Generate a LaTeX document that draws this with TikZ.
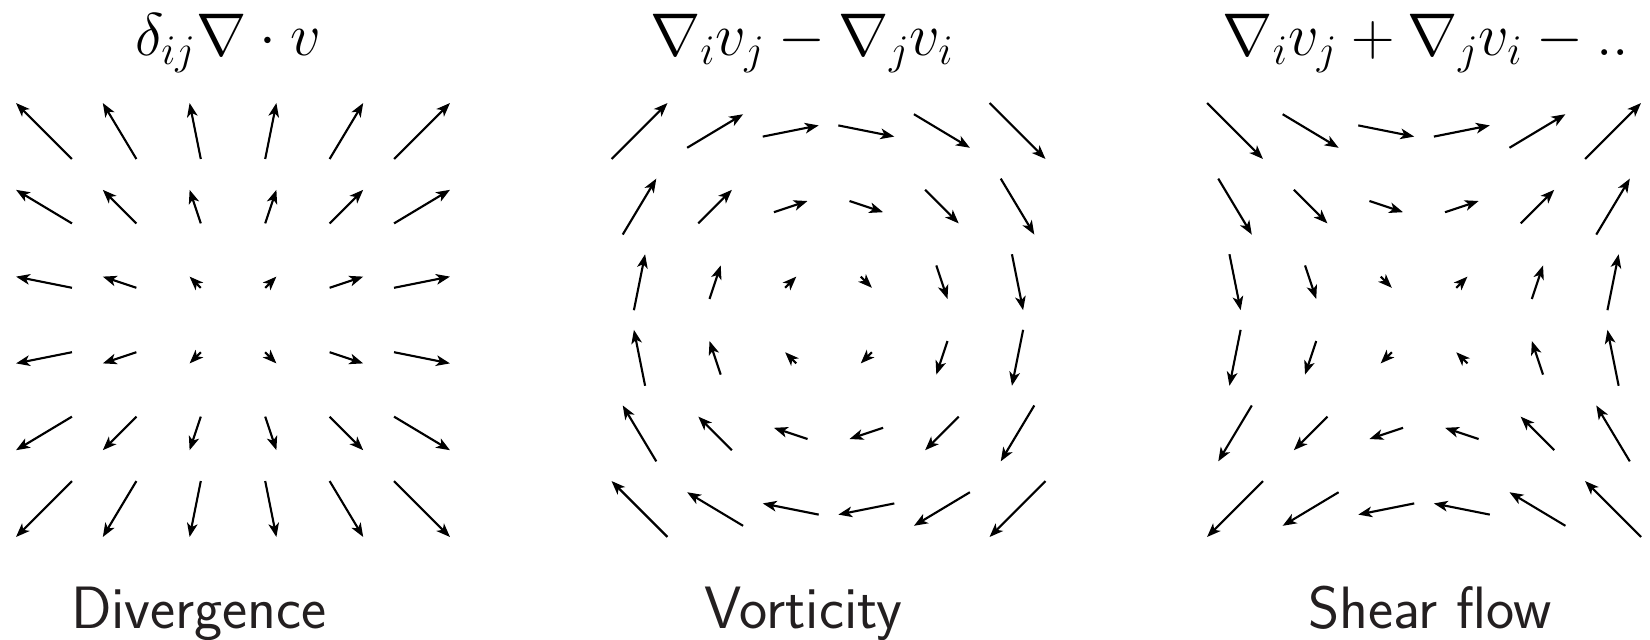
\RequirePackage{fix-cm}
\documentclass[tikz,border=0pt]{standalone}
\usepackage{amsmath}
\usepackage{tikz}
\usetikzlibrary{arrows.meta}
\definecolor{fieldBlack}{RGB}{0,0,0}
\definecolor{labelGray}{RGB}{35,31,32}
\newcommand{\quivScale}{0.296}

\begin{document}
\begin{tikzpicture}[
  flowarrow/.style={fieldBlack, line width=0.8pt, -{Stealth[length=5.2pt,width=4pt,inset=1.4pt]}},
  formula/.style={anchor=base, inner sep=0pt, font=\fontsize{22.7}{27}\selectfont},
  caption/.style={anchor=base, inner sep=0pt, text=labelGray, font=\fontsize{22.5}{27}\selectfont\sffamily}
]
\useasboundingbox (-3.082,-4.220) rectangle (18.743,4.233);

% three fields v = (a x + b y, c x + d y), arrows centred on the grid
\foreach \px/\ma/\mb/\mc/\md in {0/1/0/0/1, 7.877/0/1/-1/0, 15.754/0/1/1/0}
  \foreach \x in {-2.5,-1.5,...,2.5}
    \foreach \y in {-2.5,-1.5,...,2.5}
    {
      \pgfmathsetmacro{\vx}{\quivScale*((\ma)*(\x)+(\mb)*(\y))/2}
      \pgfmathsetmacro{\vy}{\quivScale*((\mc)*(\x)+(\md)*(\y))/2}
      \draw[flowarrow] ({\px+(\x)-(\vx)},{(\y)-(\vy)}) -- ({\px+(\x)+(\vx)},{(\y)+(\vy)});
    }

\node[formula] (divtitle) at (-0.066,3.505) {$\delta_{ij}\nabla\cdot v$};
\node[formula] (vorttitle) at (7.526,3.505) {$\nabla_i v_j - \nabla_j v_i$};
\node[formula, anchor=base west] (sheartitle) at (13.082,3.505) {$\nabla_i v_j + \nabla_j v_i - ..$};

\node[caption] (divlabel) at (-0.450,-4.074) {Divergence};
\node[caption] (vortlabel) at (7.540,-4.074) {Vorticity};
\node[caption] (shearlabel) at (15.833,-4.074) {Shear flow};
\end{tikzpicture}
\end{document}
